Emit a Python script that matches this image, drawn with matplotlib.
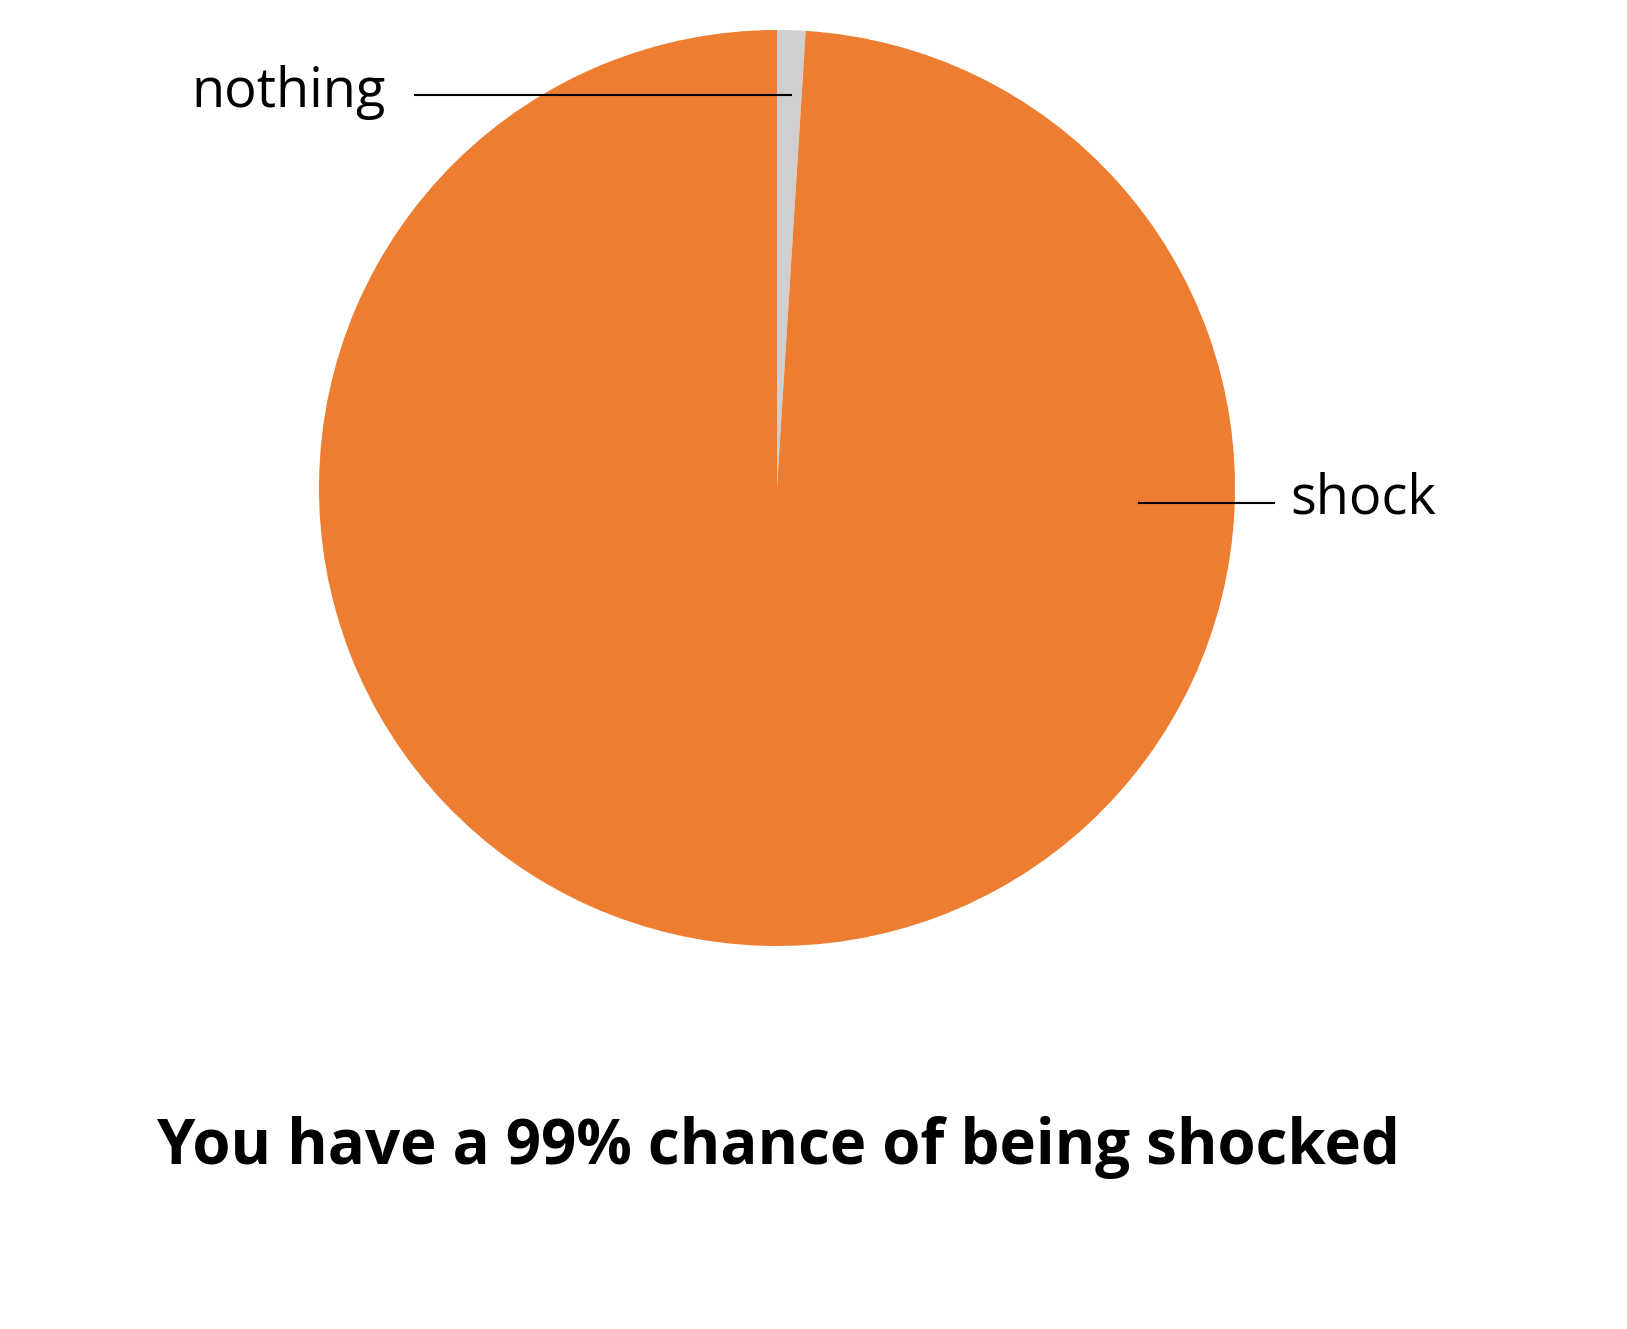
import matplotlib
matplotlib.use("Agg")
import matplotlib.pyplot as plt

labels = ["nothing", "shock"]
values = [1, 99]
colors = ["#D0CECE", "#ED7D31"]
title = "You have a 99% chance of being shocked"

W, H = 1627, 1329
fig = plt.figure(figsize=(W / 100, H / 100), dpi=100)
ax = fig.add_axes([0, 0, 1, 1])

ax.pie(values, colors=colors, startangle=90, counterclock=False,
       center=(777, H - 488), radius=458,
       wedgeprops=dict(edgecolor="none", linewidth=0))
ax.set_xlim(0, W)
ax.set_ylim(0, H)
ax.set_aspect("equal")
ax.axis("off")

font = "Open Sans"
# leader lines and labels
ax.plot([415, 791], [H - 95, H - 95], color="black", lw=1.5)
ax.text(386, H - 107, labels[0], ha="right", va="baseline", fontsize=39, family=font)
ax.plot([1139, 1274], [H - 503, H - 503], color="black", lw=1.5)
ax.text(1290, H - 514, labels[1], ha="left", va="baseline", fontsize=39, family=font)

ax.text(778, H - 1164, title, ha="center", va="baseline", fontsize=44.5,
        fontweight="bold", family=font)

fig.savefig("out.png", dpi=100)
